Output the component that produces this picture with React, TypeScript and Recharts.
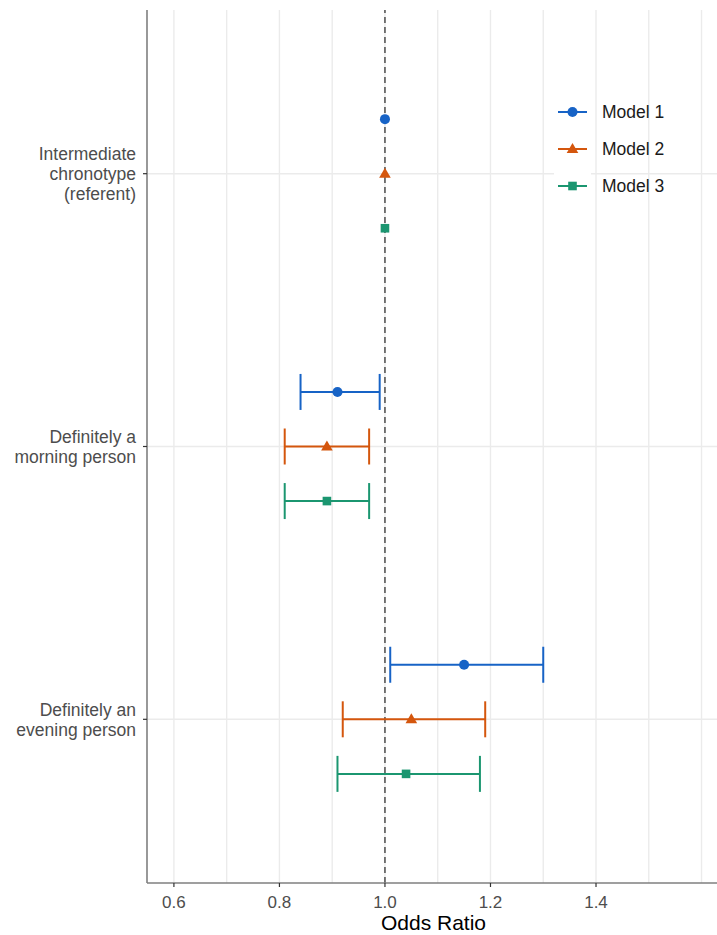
import React from 'react';
import { ScatterChart, Scatter, XAxis, YAxis, ErrorBar, ReferenceLine } from 'recharts';

const categories = ['Intermediate\nchronotype\n(referent)', 'Definitely a\nmorning person', 'Definitely an\nevening person'];
const modelNames = ['Model 1', 'Model 2', 'Model 3'];
const modelColors = ['#1763c6', '#d4560d', '#1b9670'];

const model1Est = [1.0, 0.91, 1.15];
const model1Low = [null, 0.84, 1.01];
const model1High = [null, 0.99, 1.30];

const model2Est = [1.0, 0.89, 1.05];
const model2Low = [null, 0.81, 0.92];
const model2High = [null, 0.97, 1.19];

const model3Est = [1.0, 0.89, 1.04];
const model3Low = [null, 0.81, 0.91];
const model3High = [null, 0.97, 1.18];

const xTicks = [0.6, 0.8, 1.0, 1.2, 1.4];
const xGrid = [0.6, 0.7, 0.8, 0.9, 1.0, 1.1, 1.2, 1.3, 1.4, 1.5, 1.6];
const yTicks = [1, 2, 3];

const dodge = [-0.2, 0, 0.2];
const FONT = '"Liberation Sans", Arial, Helvetica, sans-serif';

function buildRows(est: number[], low: (number | null)[], high: (number | null)[], m: number) {
  return categories.map((c, i) => ({
    x: est[i],
    y: i + 1 + dodge[m],
    err: low[i] == null || high[i] == null ? undefined : [est[i] - (low[i] as number), (high[i] as number) - est[i]],
  }));
}

const series = [
  buildRows(model1Est, model1Low, model1High, 0),
  buildRows(model2Est, model2Low, model2High, 1),
  buildRows(model3Est, model3Low, model3High, 2),
];

function Marker({ m, cx, cy }: { m: number; cx: number; cy: number }) {
  const col = modelColors[m];
  if (m === 0) return <circle cx={cx} cy={cy} r={5} fill={col} />;
  if (m === 1)
    return <polygon points={`${cx},${cy - 6} ${cx - 5.8},${cy + 4} ${cx + 5.8},${cy + 4}`} fill={col} />;
  return <rect x={cx - 4.3} y={cy - 4.3} width={8.6} height={8.6} fill={col} />;
}

const YTick = (props: any) => {
  const { x, y, payload } = props;
  const idx = Math.round(payload.value) - 1;
  const lines = (categories[idx] || '').split('\n');
  const lh = 20;
  const start = y - ((lines.length - 1) * lh) / 2;
  return (
    <text x={x} y={start} textAnchor="end" fill="#4d4d4d" fontSize={17.5} fontFamily={FONT}>
      {lines.map((l, k) => (
        <tspan key={k} x={x} y={start + k * lh} dy="0.36em">
          {l}
        </tspan>
      ))}
    </text>
  );
};

const LegendBox = () => (
  <svg width={160} height={115} style={{ position: 'absolute', left: 554, top: 95 }}>
    <rect x={0} y={0} width={37} height={111} fill="#ffffff" />
    {modelNames.map((name, k) => {
      const cy = 17 + k * 37;
      return (
        <g key={name}>
          <line x1={4} x2={33} y1={cy} y2={cy} stroke={modelColors[k]} strokeWidth={2} />
          <Marker m={k} cx={18.5} cy={cy} />
          <text x={48} y={cy} dy="0.36em" fontSize={17.5} fill="#1a1a1a" fontFamily={FONT}>
            {name}
          </text>
        </g>
      );
    })}
  </svg>
);

export default function App() {
  return (
    <div style={{ position: 'absolute', left: 0, top: 0, width: 717, height: 935, overflow: 'hidden', background: '#fff' }}>
      <ScatterChart width={720} height={935} margin={{ top: 10, right: 0, bottom: 0, left: 0 }}>
        <XAxis
          type="number"
          dataKey="x"
          domain={[0.549, 1.635]}
          ticks={xTicks}
          tickFormatter={(v: number) => v.toFixed(1)}
          allowDataOverflow
          height={52}
          tickSize={4}
          tickMargin={9}
          axisLine={{ stroke: '#7f7f7f', strokeWidth: 1.6 }}
          tickLine={{ stroke: '#333333', strokeWidth: 1.2 }}
          tick={{ fill: '#4d4d4d', fontSize: 17, fontFamily: FONT }}
          label={{ value: 'Odds Ratio', position: 'insideBottom', offset: 5, fill: '#000000', fontSize: 21, fontFamily: FONT }}
        />
        <XAxis
          xAxisId="top"
          orientation="top"
          type="number"
          domain={[0.549, 1.635]}
          height={0}
          tick={false}
          tickLine={false}
          axisLine={{ stroke: '#7f7f7f', strokeWidth: 1.6 }}
        />
        <YAxis
          type="number"
          dataKey="y"
          domain={[0.4, 3.6]}
          reversed
          ticks={yTicks}
          allowDataOverflow
          width={147}
          tickSize={4}
          tickMargin={7}
          axisLine={{ stroke: '#7f7f7f', strokeWidth: 1.6 }}
          tickLine={{ stroke: '#333333', strokeWidth: 1.2 }}
          tick={<YTick />}
        />
        {xGrid.map((g) => (
          <ReferenceLine key={'gx' + g} x={g} stroke="#ebebeb" strokeWidth={1.4} />
        ))}
        {yTicks.map((g) => (
          <ReferenceLine key={'gy' + g} y={g} stroke="#ebebeb" strokeWidth={1.6} />
        ))}
        <ReferenceLine x={1} stroke="#333333" strokeWidth={1.3} strokeDasharray="6 4" />
        {series.map((rows, m) => (
          <Scatter
            key={modelNames[m]}
            name={modelNames[m]}
            data={rows}
            fill={modelColors[m]}
            isAnimationActive={false}
            shape={(p: any) => <Marker m={m} cx={p.cx} cy={p.cy} />}
          >
            <ErrorBar dataKey="err" direction="x" width={18} stroke={modelColors[m]} strokeWidth={2} isAnimationActive={false} />
          </Scatter>
        ))}
      </ScatterChart>
      <LegendBox />
    </div>
  );
}
